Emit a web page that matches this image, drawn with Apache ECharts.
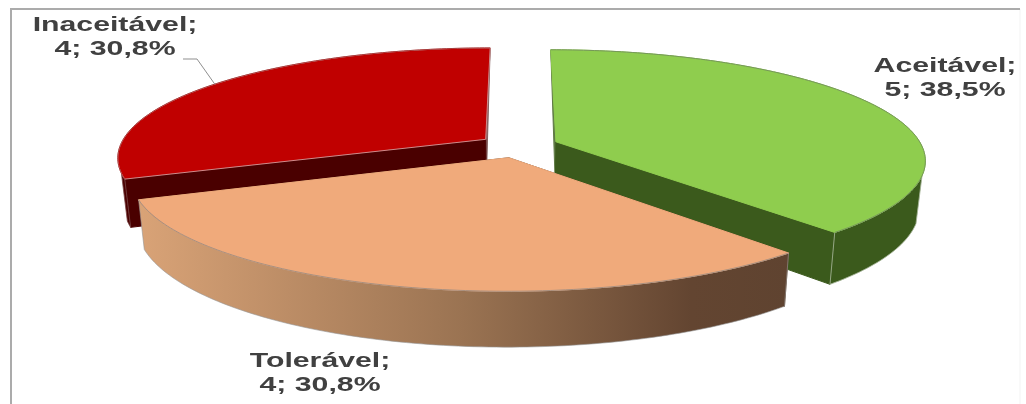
<!DOCTYPE html>
<html>
<head>
<meta charset="utf-8">
<title>Aceitável / Tolerável / Inaceitável</title>
<style>html,body{margin:0;padding:0;background:#fff}#c{width:1026px;height:404px}</style>
<script src="https://cdn.jsdelivr.net/npm/echarts@6/dist/echarts.min.js"></script>
</head>
<body>
<div id="c"></div>
<script>
const categories = ['Aceitável', 'Tolerável', 'Inaceitável'];
const values = [5, 4, 4];
const topColors = ['#8fcd4e', '#f0aa7b', '#c00000'];
const innerWallColors = ['#3b5a1c', '#6a4a32', '#4a0000'];
const backWallColors = ['#5f7a45', '#6a4a32', '#85605f'];
const rimColors = ['#76975a', '#a89080', '#a83a3a'];
const edgeColors = ['#8fcd4e', '#f0aa7b', '#d08a8a'];
const labelCenters = [[945, 78], [320, 373.5], [115, 37.5]];

// Projection of the tilted, exploded pie onto the page.
const view = { x0: 518.5, y0: 146, rx: 366, ry: 108, tilt: 0.16, depth: 46, taper: 0.985, explode: 0.11, horizon: -0.3 };
// Slices are stacked back to front: later entries cover earlier ones.
const stacking = [2, 3, 1];
const total = values.reduce((a, b) => a + b, 0);
const starts = values.map((_, i) => values.slice(0, i).reduce((a, b) => a + b, 0) / total * Math.PI * 2);
const ends = values.map((v, i) => starts[i] + v / total * Math.PI * 2);

function project(i, angle, radius, lower) {
  const mid = (starts[i] + ends[i]) / 2;
  const u = view.explode * Math.sin(mid) + radius * Math.sin(angle);
  const v = view.explode * Math.cos(mid) + radius * Math.cos(angle);
  const w = 1 + view.tilt * v;
  const sx = view.rx * u / w;
  const sy = -view.ry * v / w;
  return lower
    ? [view.x0 + sx * view.taper, view.y0 + sy + view.depth / w]
    : [view.x0 + sx, view.y0 + sy];
}

function arcAngles(i) {
  const n = Math.ceil((ends[i] - starts[i]) / (Math.PI / 180));
  const list = [];
  for (let k = 0; k <= n; k++) list.push(starts[i] + (ends[i] - starts[i]) * k / n);
  return list;
}

function formatLabel(i) {
  const pct = (values[i] / total * 100).toFixed(1).replace('.', ',');
  return categories[i] + ';\n' + values[i] + '; ' + pct + '%';
}

function renderSlice(params) {
  const i = params.dataIndex;
  const z = stacking[i];
  const angles = arcAngles(i);
  const up = angles.map(a => project(i, a, 1, false));
  // Only the part of the rim turned towards the viewer shows a side wall.
  const frontAngles = angles.filter(a => Math.cos(a) < view.horizon);
  const frontUp = frontAngles.map(a => project(i, a, 1, false));
  const frontDown = frontAngles.map(a => project(i, a, 1, true));
  const apexUp = project(i, 0, 0, false), apexDown = project(i, 0, 0, true);
  const children = [];
  const wall = (pts, fill, stroke) => children.push({
    type: 'polygon', z2: z, shape: { points: pts },
    style: { fill: fill, stroke: stroke, lineWidth: 1 }
  });
  // Cut faces: one runs to the back of the pie, the other towards the viewer.
  const farEdge = i === 0 ? up[0] : up[up.length - 1];
  const nearAngle = i === 0 ? ends[i] : starts[i];
  wall([farEdge, apexUp, apexDown], backWallColors[i], backWallColors[i]);
  const nearUp = project(i, nearAngle, 1, false), nearDown = project(i, nearAngle, 1, true);
  wall([nearUp, apexUp, apexDown, nearDown], innerWallColors[i], innerWallColors[i]);
  const sideFill = i === 1
    ? new echarts.graphic.LinearGradient(0, 0, 1, 0, [
        { offset: 0, color: '#d9a377' }, { offset: 0.5, color: '#9a7352' }, { offset: 0.85, color: '#634531' }, { offset: 1, color: '#5f4330' }
      ])
    : innerWallColors[i];
  const seam = ['rgba(165,180,150,0.85)', 'rgba(150,150,150,0.6)', 'rgba(120,70,70,0.8)'][i];
  wall(frontUp.concat(frontDown.slice().reverse()), sideFill, seam);
  children.push({
    type: 'polygon', z2: z, shape: { points: [apexUp].concat(up) },
    style: { fill: topColors[i], stroke: edgeColors[i], lineWidth: 1 }
  });
  children.push({
    type: 'polyline', z2: z, shape: { points: up },
    style: { fill: 'none', stroke: rimColors[i], lineWidth: 1 }
  });
  return { type: 'group', children: children };
}

function renderLabel(params) {
  const i = params.dataIndex;
  const c = labelCenters[i];
  const children = [{
    type: 'text', z2: 10, x: c[0], y: c[1], scaleX: 1.44,
    style: {
      text: formatLabel(i), fill: '#404040', align: 'center', verticalAlign: 'middle',
      font: 'bold 21px "Liberation Sans", Arial, sans-serif', lineHeight: 24
    }
  }];
  if (i === 2) {
    // Leader from the label to the middle of its slice's rim.
    const mid = (starts[i] + ends[i]) / 2;
    const tip = project(i, mid, 1, false);
    children.push({
      type: 'polyline', z2: 10,
      shape: { points: [[183, 59], [197, 59], tip] },
      style: { stroke: '#8f8f8f', lineWidth: 1, fill: 'none' }
    });
  }
  return { type: 'group', children: children };
}

const rows = values.map((v, i) => ({ name: categories[i], value: v }));
const chart = echarts.init(document.getElementById('c'), null, { renderer: 'canvas' });
chart.setOption({
  animation: false,
  backgroundColor: '#ffffff',
  graphic: [
    { type: 'polyline', silent: true, shape: { points: [[1020, 9], [1020, 404]] }, style: { stroke: '#f3f3f3', lineWidth: 1, fill: 'none' } },
    { type: 'polyline', silent: true, shape: { points: [[11, 404], [11, 9], [1020, 9]] }, style: { stroke: '#ababab', lineWidth: 2, fill: 'none' } }
  ],
  series: [
    { type: 'custom', coordinateSystem: 'none', silent: true, data: rows, renderItem: renderSlice, z: 2 },
    { type: 'custom', coordinateSystem: 'none', silent: true, data: rows, renderItem: renderLabel, z: 3 }
  ]
});
</script>
</body>
</html>
